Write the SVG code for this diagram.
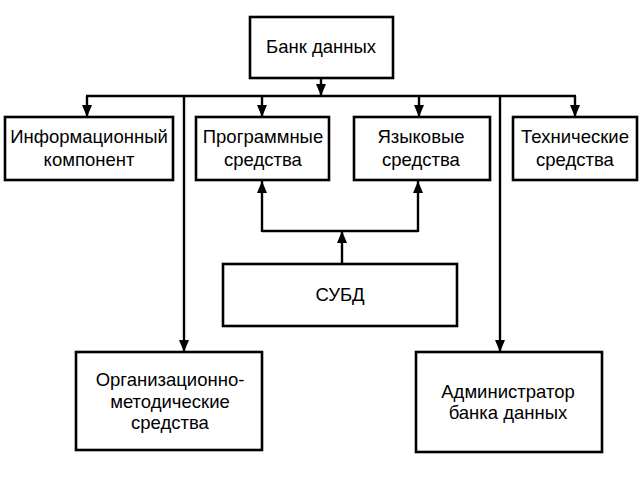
<svg xmlns="http://www.w3.org/2000/svg" width="640" height="480" viewBox="0 0 640 480">
<defs>
<style>
.box{fill:#fff;stroke:#000;stroke-width:2.6}
.ln{fill:none;stroke:#000;stroke-width:2.4}
text{font-family:"Liberation Sans",Arial,sans-serif;font-size:18.5px;fill:#000;text-anchor:middle}
</style>
<marker id="ah" viewBox="0 0 12 10" refX="12" refY="5" markerWidth="12" markerHeight="10" markerUnits="userSpaceOnUse" orient="auto">
<path d="M0,0 L12,5 L0,10 z" fill="#000"/>
</marker>
</defs>
<rect width="640" height="480" fill="#fff"/>
<g id="connectors">
<line class="ln" x1="321" y1="78" x2="321" y2="96" marker-end="url(#ah)"/>
<line class="ln" x1="86" y1="96" x2="576" y2="96"/>
<line class="ln" x1="87" y1="96" x2="87" y2="117" marker-end="url(#ah)"/>
<line class="ln" x1="262" y1="96" x2="262" y2="117" marker-end="url(#ah)"/>
<line class="ln" x1="419" y1="96" x2="419" y2="117" marker-end="url(#ah)"/>
<line class="ln" x1="575" y1="96" x2="575" y2="117" marker-end="url(#ah)"/>
<line class="ln" x1="184" y1="96" x2="184" y2="352" marker-end="url(#ah)"/>
<line class="ln" x1="500" y1="96" x2="500" y2="352" marker-end="url(#ah)"/>
<line class="ln" x1="342" y1="264" x2="342" y2="231" marker-end="url(#ah)"/>
<polyline class="ln" points="262,231 418,231"/>
<line class="ln" x1="262" y1="232" x2="262" y2="181" marker-end="url(#ah)"/>
<line class="ln" x1="418" y1="232" x2="418" y2="181" marker-end="url(#ah)"/>
</g>
<g id="bank"><rect class="box" x="250" y="17" width="143" height="61"/><text x="321" y="53">Банк данных</text></g>
<g id="info"><rect class="box" x="5" y="117" width="168" height="63"/><text x="89" y="143">Информационный</text><text x="89" y="166">компонент</text></g>
<g id="prog"><rect class="box" x="196" y="117" width="133" height="63"/><text x="263" y="143">Программные</text><text x="263" y="166">средства</text></g>
<g id="lang"><rect class="box" x="354" y="117" width="136" height="63"/><text x="421" y="143">Языковые</text><text x="421" y="166">средства</text></g>
<g id="tech"><rect class="box" x="513" y="117" width="124" height="63"/><text x="575" y="143">Технические</text><text x="575" y="166">средства</text></g>
<g id="dbms"><rect class="box" x="223" y="264" width="234" height="62"/><text x="340" y="301">СУБД</text></g>
<g id="org"><rect class="box" x="76" y="352" width="186" height="98"/><text x="170" y="386">Организационно-</text><text x="170" y="408">методические</text><text x="170" y="429">средства</text></g>
<g id="admin"><rect class="box" x="416" y="352" width="186" height="100"/><text x="508" y="398">Администратор</text><text x="508" y="419">банка данных</text></g>
</svg>
